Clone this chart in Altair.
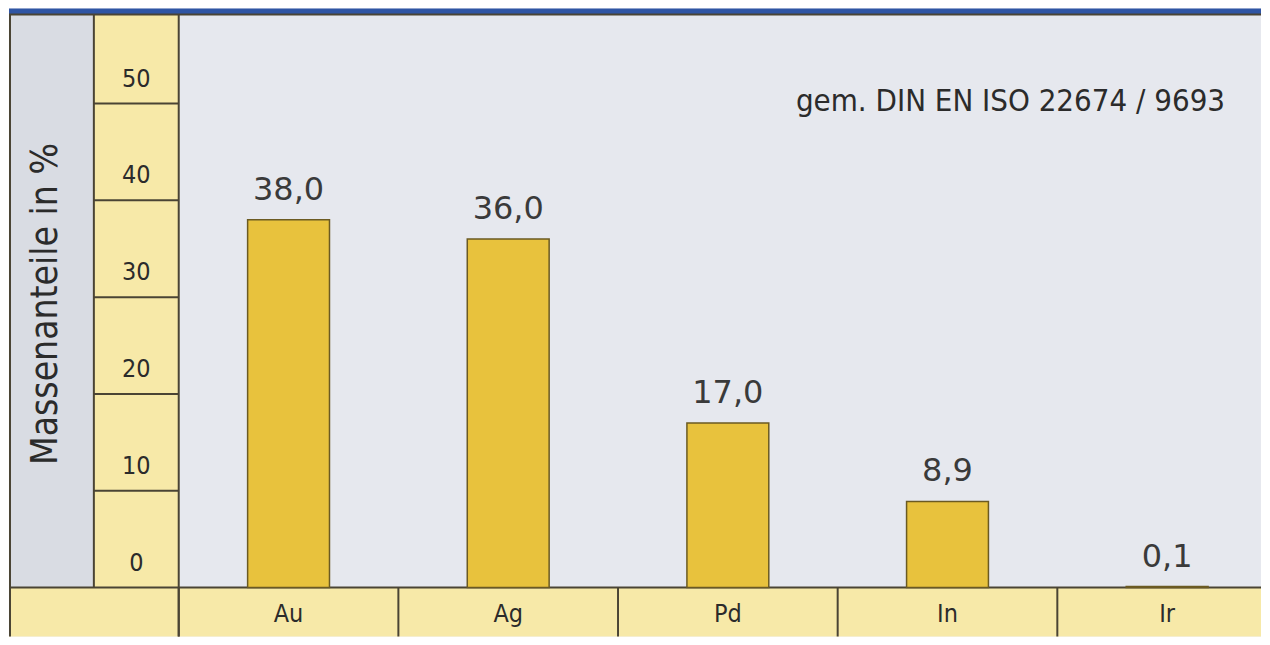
import altair as alt
import pandas as pd

# ---- data ----
categories = ["Au", "Ag", "Pd", "In", "Ir"]
values = [38.0, 36.0, 17.0, 8.9, 0.1]
value_labels = ["38,0", "36,0", "17,0", "8,9", "0,1"]
tick_values = [0, 10, 20, 30, 40, 50]
tick_labels = ["0", "10", "20", "30", "40", "50"]
grid_values = [10, 20, 30, 40, 50]
y_title = "Massenanteile in %"
note = "gem. DIN EN ISO 22674 / 9693"

# ---- style ----
BLUE = "#2f55a4"
LINE = "#4a4434"
GRAY = "#d9dce3"
YEL = "#f7e9a8"
PLOT_BG = "#e6e8ee"
BAR = "#e8c23d"
BAR_STROKE = "#6b5a22"
TXT = "#2b2b2b"
NARROW = "DejaVu Sans Condensed, Liberation Sans Narrow, sans-serif"
REG = "DejaVu Sans, sans-serif"

W, HT = 1254, 629
TOP, BOT = 6, 580          # plot area top / bottom (px in view)
COL1, COL2 = 85, 170       # column boundaries

bars_df = pd.DataFrame({"cat": categories, "val": values, "lab": value_labels})
ticks_df = pd.DataFrame({"v": tick_values, "lab": tick_labels})
grid_df = pd.DataFrame({"v": grid_values})
one = pd.DataFrame({"a": [0]})

yscale = alt.Scale(domain=[0, 59.2], range=[BOT, TOP], nice=False, zero=True)
xscale = alt.Scale(domain=categories, range=[COL2, COL2 + 1100], paddingInner=0, paddingOuter=0)


def box(x0, x1, y0, y1, fill):
    return alt.Chart(one).mark_rect(color=fill).encode(
        x=alt.value(x0), x2=alt.value(x1), y=alt.value(y0), y2=alt.value(y1)
    )


def line(x0, x1, y0, y1):
    return alt.Chart(one).mark_rule(color=LINE, strokeWidth=2).encode(
        x=alt.value(x0), x2=alt.value(x1), y=alt.value(y0), y2=alt.value(y1)
    )


backgrounds = [
    box(0, W, 0, TOP, BLUE),
    box(0, COL1, TOP, BOT, GRAY),
    box(COL1, COL2, TOP, BOT, YEL),
    box(0, W, BOT, HT, YEL),
]

frame = [
    line(0, W, TOP, TOP),
    line(0, W, BOT, BOT),
    line(1, 1, TOP, HT),
    line(COL1, COL1, TOP, BOT),
    line(COL2, COL2, TOP, HT),
]

tick_rules = (
    alt.Chart(grid_df)
    .mark_rule(color=LINE, strokeWidth=2)
    .encode(y=alt.Y("v:Q", scale=yscale, axis=None), x=alt.value(COL1), x2=alt.value(COL2))
)
tick_text = (
    alt.Chart(ticks_df)
    .mark_text(font=NARROW, fontSize=25, color=TXT, dy=-25, baseline="middle", align="center")
    .encode(y=alt.Y("v:Q", scale=yscale, axis=None), text="lab:N", x=alt.value((COL1 + COL2) / 2))
)

cat_rules = (
    alt.Chart(bars_df)
    .mark_rule(color=LINE, strokeWidth=2)
    .encode(
        x=alt.X("cat:N", scale=xscale, axis=None, sort=categories, bandPosition=0),
        y=alt.value(BOT),
        y2=alt.value(HT),
    )
)
cat_text = (
    alt.Chart(bars_df)
    .mark_text(font=NARROW, fontSize=25, color=TXT, baseline="middle", align="center")
    .encode(x=alt.X("cat:N", scale=xscale, axis=None, sort=categories), text="cat:N", y=alt.value(606))
)

bars = (
    alt.Chart(bars_df)
    .mark_bar(width=82, color=BAR, stroke=BAR_STROKE, strokeWidth=1.5)
    .encode(
        x=alt.X("cat:N", scale=xscale, axis=None, sort=categories),
        y=alt.Y("val:Q", scale=yscale, axis=None),
    )
)
labels = (
    alt.Chart(bars_df)
    .mark_text(font=REG, fontSize=32, color="#3a3a3a", baseline="alphabetic", dy=-20)
    .encode(
        x=alt.X("cat:N", scale=xscale, axis=None, sort=categories),
        y=alt.Y("val:Q", scale=yscale, axis=None),
        text="lab:N",
    )
)

title_t = (
    alt.Chart(pd.DataFrame({"t": [y_title]}))
    .mark_text(angle=270, font=NARROW, fontSize=37, color=TXT, baseline="middle", align="center")
    .encode(text="t:N", x=alt.value(37), y=alt.value(296))
)
note_t = (
    alt.Chart(pd.DataFrame({"t": [note]}))
    .mark_text(font=NARROW, fontSize=31, color=TXT, align="right", baseline="middle")
    .encode(text="t:N", x=alt.value(1218), y=alt.value(94))
)

chart = (
    alt.layer(
        *backgrounds,
        tick_rules,
        cat_rules,
        *frame,
        bars,
        labels,
        tick_text,
        cat_text,
        title_t,
        note_t,
    )
    .properties(width=W, height=HT, padding=0, background="white")
    .configure_view(fill=PLOT_BG, strokeWidth=0)
)

chart.save("out.html", embed_options={"renderer": "svg", "actions": False})
